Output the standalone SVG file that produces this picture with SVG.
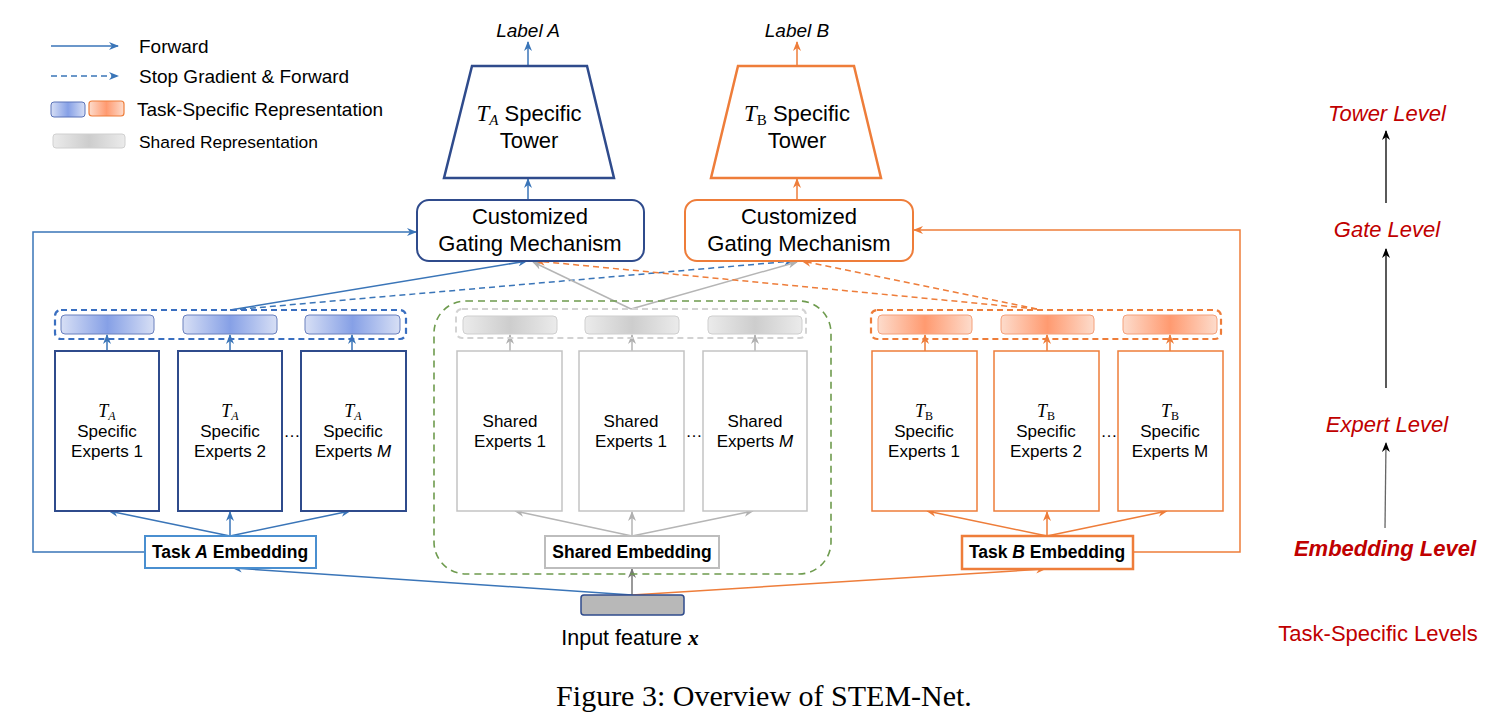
<svg xmlns="http://www.w3.org/2000/svg" width="1496" height="728" viewBox="0 0 1496 728">
<defs>
<style>
.sans{font-family:"Liberation Sans",Arial,sans-serif;fill:#000}
.serif{font-family:"Liberation Serif","Times New Roman",serif;fill:#000}
.math{font-family:"Liberation Serif","Times New Roman",serif;font-style:italic}
.lvl{font-family:"Liberation Sans",Arial,sans-serif;fill:#c00000;font-size:22px;text-anchor:middle}
.c{text-anchor:middle}
.blueL{stroke:#3a75b8;stroke-width:1.5;fill:none}
.orangeL{stroke:#ee7d3a;stroke-width:1.5;fill:none}
.grayL{stroke:#b5b5b5;stroke-width:1.5;fill:none}
.dash{stroke-dasharray:6,4}
.expA{fill:#fff;stroke:#2f4b8c;stroke-width:2}
.expS{fill:#fff;stroke:#c3c3c3;stroke-width:1.5}
.expB{fill:#fff;stroke:#ee7d3a;stroke-width:1.5}
.et{font-family:"Liberation Sans",Arial,sans-serif;font-size:17px;text-anchor:middle;fill:#000}
.emb{font-family:"Liberation Sans",Arial,sans-serif;font-size:17.5px;font-weight:bold;text-anchor:middle;fill:#000}
</style>
<linearGradient id="gBlue" x1="0" y1="0" x2="1" y2="0">
<stop offset="0" stop-color="#d7dff5"/><stop offset="0.5" stop-color="#86a0e6"/><stop offset="1" stop-color="#d7dff5"/>
</linearGradient>
<linearGradient id="gOrange" x1="0" y1="0" x2="1" y2="0">
<stop offset="0" stop-color="#fddccc"/><stop offset="0.5" stop-color="#ff9a70"/><stop offset="1" stop-color="#fddccc"/>
</linearGradient>
<linearGradient id="gGray" x1="0" y1="0" x2="1" y2="0">
<stop offset="0" stop-color="#ebebeb"/><stop offset="0.5" stop-color="#cdcdcd"/><stop offset="1" stop-color="#ebebeb"/>
</linearGradient>
<marker id="mBlue" markerUnits="userSpaceOnUse" markerWidth="10" markerHeight="8" refX="9" refY="4" orient="auto"><path d="M0,0 L10,4 L0,8 L3,4 z" fill="#3a75b8"/></marker>
<marker id="mOrange" markerUnits="userSpaceOnUse" markerWidth="10" markerHeight="8" refX="9" refY="4" orient="auto"><path d="M0,0 L10,4 L0,8 L3,4 z" fill="#ee7d3a"/></marker>
<marker id="mGray" markerUnits="userSpaceOnUse" markerWidth="10" markerHeight="8" refX="9" refY="4" orient="auto"><path d="M0,0 L10,4 L0,8 L3,4 z" fill="#b0b0b0"/></marker>
<marker id="mDark" markerUnits="userSpaceOnUse" markerWidth="10" markerHeight="8" refX="9" refY="4" orient="auto"><path d="M0,0 L10,4 L0,8 L3,4 z" fill="#777"/></marker>
<marker id="mBlack" markerUnits="userSpaceOnUse" markerWidth="10" markerHeight="8" refX="9" refY="4" orient="auto"><path d="M0,0 L10,4 L0,8 L3,4 z" fill="#000"/></marker>
</defs>
<rect width="1496" height="728" fill="#fff"/>

<g id="legend">
<line x1="51" y1="46" x2="118" y2="46" class="blueL" marker-end="url(#mBlue)"/>
<text x="139" y="53" class="sans" font-size="19">Forward</text>
<line x1="51" y1="76" x2="118" y2="76" class="blueL dash" stroke-dasharray="5,4" marker-end="url(#mBlue)"/>
<text x="139" y="83" class="sans" font-size="19">Stop Gradient &amp; Forward</text>
<rect x="51" y="102" width="34" height="15" rx="3" fill="url(#gBlue)" stroke="#5a72b8" stroke-width="1"/>
<rect x="89" y="101" width="35" height="15" rx="3" fill="url(#gOrange)" stroke="#ee7d3a" stroke-width="1.2"/>
<text x="137" y="116" class="sans" font-size="19">Task-Specific Representation</text>
<rect x="53" y="134" width="72" height="14" rx="3" fill="url(#gGray)" stroke="#d0d0d0" stroke-width="1"/>
<text x="139" y="148" class="sans" font-size="17.4">Shared Representation</text>
</g>

<g id="connectors">
<line x1="528" y1="66" x2="528" y2="42" class="blueL" marker-end="url(#mBlue)"/>
<line x1="528" y1="200" x2="528" y2="179" class="blueL" marker-end="url(#mBlue)"/>
<line x1="797" y1="66" x2="797" y2="42" class="orangeL" marker-end="url(#mOrange)"/>
<line x1="797" y1="200" x2="797" y2="179" class="orangeL" marker-end="url(#mOrange)"/>
<polyline points="145,552 33,552 33,232 416,232" class="blueL" marker-end="url(#mBlue)"/>
<polyline points="1133,552 1240,552 1240,230 914,230" class="orangeL" marker-end="url(#mOrange)"/>
<line x1="230" y1="310" x2="527" y2="261" class="blueL" marker-end="url(#mBlue)"/>
<line x1="230" y1="310" x2="793" y2="261" class="blueL dash" marker-end="url(#mBlue)"/>
<line x1="631" y1="309" x2="533" y2="262" class="grayL" marker-end="url(#mGray)"/>
<line x1="631" y1="309" x2="797" y2="262" class="grayL" marker-end="url(#mGray)"/>
<line x1="1037" y1="309" x2="802" y2="261" class="orangeL dash" marker-end="url(#mOrange)"/>
<line x1="1037" y1="309" x2="536" y2="261" class="orangeL dash" marker-end="url(#mOrange)"/>
<line x1="107" y1="351" x2="107" y2="335" class="blueL" marker-end="url(#mBlue)"/>
<line x1="230" y1="351" x2="230" y2="335" class="blueL" marker-end="url(#mBlue)"/>
<line x1="352" y1="351" x2="352" y2="335" class="blueL" marker-end="url(#mBlue)"/>
<line x1="510" y1="351" x2="510" y2="335" class="grayL" marker-end="url(#mGray)"/>
<line x1="632" y1="351" x2="632" y2="335" class="grayL" marker-end="url(#mGray)"/>
<line x1="755" y1="351" x2="755" y2="335" class="grayL" marker-end="url(#mGray)"/>
<line x1="925" y1="351" x2="925" y2="335" class="orangeL" marker-end="url(#mOrange)"/>
<line x1="1047" y1="351" x2="1047" y2="335" class="orangeL" marker-end="url(#mOrange)"/>
<line x1="1170" y1="351" x2="1170" y2="335" class="orangeL" marker-end="url(#mOrange)"/>
<line x1="230" y1="536" x2="109" y2="511" class="blueL" marker-end="url(#mBlue)"/>
<line x1="230" y1="536" x2="230" y2="512" class="blueL" marker-end="url(#mBlue)"/>
<line x1="230" y1="536" x2="350" y2="511" class="blueL" marker-end="url(#mBlue)"/>
<line x1="632" y1="536" x2="515" y2="511" class="grayL" marker-end="url(#mGray)"/>
<line x1="632" y1="536" x2="632" y2="512" class="grayL" marker-end="url(#mGray)"/>
<line x1="632" y1="536" x2="753" y2="511" class="grayL" marker-end="url(#mGray)"/>
<line x1="1047" y1="536" x2="927" y2="511" class="orangeL" marker-end="url(#mOrange)"/>
<line x1="1047" y1="536" x2="1047" y2="512" class="orangeL" marker-end="url(#mOrange)"/>
<line x1="1047" y1="536" x2="1167" y2="511" class="orangeL" marker-end="url(#mOrange)"/>
<line x1="632" y1="595" x2="233" y2="568" class="blueL" marker-end="url(#mBlue)"/>
<line x1="632" y1="595" x2="1045" y2="569" class="orangeL" stroke-width="1.2" marker-end="url(#mOrange)"/>
<line x1="632" y1="595" x2="632" y2="569" stroke="#777" stroke-width="1.5" marker-end="url(#mDark)"/>
<line x1="1386" y1="203" x2="1386" y2="131" stroke="#000" stroke-width="1.3" marker-end="url(#mBlack)"/>
<line x1="1386" y1="388" x2="1386" y2="249" stroke="#000" stroke-width="1.3" marker-end="url(#mBlack)"/>
<line x1="1385" y1="528" x2="1386" y2="443" stroke="#666" stroke-width="1.3" marker-end="url(#mBlack)"/>
</g>

<g id="towerA">
<text x="528" y="37" class="sans c" font-size="19" font-style="italic">Label A</text>
<polygon points="472,66 587,66 614,178 444,178" fill="#fff" stroke="#2f4b8c" stroke-width="2.5"/>
<text x="529" y="121" class="sans c" font-size="22"><tspan class="math" font-size="23">T</tspan><tspan class="math" font-size="15" dy="4">A</tspan><tspan dy="-4"> Specific</tspan></text>
<text x="529" y="148" class="sans c" font-size="22">Tower</text>
</g>

<g id="towerB">
<text x="797" y="37" class="sans c" font-size="19" font-style="italic">Label B</text>
<polygon points="738,66 854,66 881,178 711,178" fill="#fff" stroke="#ee7d3a" stroke-width="2.5"/>
<text x="797" y="121" class="sans c" font-size="22"><tspan class="math" font-size="23">T</tspan><tspan font-family="Liberation Serif,serif" font-size="15" dy="4">B</tspan><tspan dy="-4"> Specific</tspan></text>
<text x="797" y="148" class="sans c" font-size="22">Tower</text>
</g>

<g id="gateA">
<rect x="417" y="200" width="227" height="61" rx="12" fill="#fff" stroke="#2f4b8c" stroke-width="2"/>
<text x="530" y="224" class="sans c" font-size="22">Customized</text>
<text x="530" y="251" class="sans c" font-size="22">Gating Mechanism</text>
</g>
<g id="gateB">
<rect x="685" y="200" width="228" height="61" rx="12" fill="#fff" stroke="#ee7d3a" stroke-width="2"/>
<text x="799" y="224" class="sans c" font-size="22">Customized</text>
<text x="799" y="251" class="sans c" font-size="22">Gating Mechanism</text>
</g>

<g id="repA">
<rect x="55" y="310" width="351" height="29" rx="6" fill="none" stroke="#3a6fc0" stroke-width="2.2" stroke-dasharray="6,4"/>
<rect x="61" y="315" width="93" height="19" rx="4" fill="url(#gBlue)" stroke="#6a80bd" stroke-width="1"/>
<rect x="183" y="315" width="94" height="19" rx="4" fill="url(#gBlue)" stroke="#6a80bd" stroke-width="1"/>
<rect x="305" y="315" width="95" height="19" rx="4" fill="url(#gBlue)" stroke="#6a80bd" stroke-width="1"/>
</g>
<g id="expertsA">
<rect x="55" y="351" width="104" height="160" class="expA"/>
<text x="107" y="417" class="c"><tspan class="math" font-size="18">T</tspan><tspan class="math" font-size="12" dy="3">A</tspan></text>
<text x="107" y="437" class="et">Specific</text>
<text x="107" y="457" class="et">Experts 1</text>
<rect x="178" y="351" width="104" height="160" class="expA"/>
<text x="230" y="417" class="c"><tspan class="math" font-size="18">T</tspan><tspan class="math" font-size="12" dy="3">A</tspan></text>
<text x="230" y="437" class="et">Specific</text>
<text x="230" y="457" class="et">Experts 2</text>
<text x="292" y="437" class="et">…</text>
<rect x="301" y="351" width="105" height="160" class="expA"/>
<text x="353" y="417" class="c"><tspan class="math" font-size="18">T</tspan><tspan class="math" font-size="12" dy="3">A</tspan></text>
<text x="353" y="437" class="et">Specific</text>
<text x="353" y="457" class="et">Experts <tspan font-style="italic">M</tspan></text>
</g>
<g id="embA">
<rect x="145" y="536" width="171" height="32" fill="#fff" stroke="#4a8fd0" stroke-width="2"/>
<text x="230" y="558" class="emb">Task <tspan font-style="italic">A</tspan> Embedding</text>
</g>

<g id="sharedGroup">
<rect x="434" y="301" width="397" height="273" rx="32" fill="none" stroke="#6e9b4e" stroke-width="1.6" stroke-dasharray="7,5"/>
</g>
<g id="repS">
<rect x="456" y="309" width="350" height="29" rx="6" fill="none" stroke="#d3d3d3" stroke-width="2" stroke-dasharray="6,4"/>
<rect x="463" y="316" width="94" height="18" rx="4" fill="url(#gGray)" stroke="#cfcfcf" stroke-width="1"/>
<rect x="585" y="316" width="94" height="18" rx="4" fill="url(#gGray)" stroke="#cfcfcf" stroke-width="1"/>
<rect x="708" y="316" width="94" height="18" rx="4" fill="url(#gGray)" stroke="#cfcfcf" stroke-width="1"/>
</g>
<g id="expertsS">
<rect x="457" y="351" width="105" height="160" class="expS"/>
<text x="510" y="427" class="et">Shared</text>
<text x="510" y="447" class="et">Experts 1</text>
<rect x="579" y="351" width="105" height="160" class="expS"/>
<text x="631" y="427" class="et">Shared</text>
<text x="631" y="447" class="et">Experts 1</text>
<text x="694" y="437" class="et">…</text>
<rect x="703" y="351" width="104" height="160" class="expS"/>
<text x="755" y="427" class="et">Shared</text>
<text x="755" y="447" class="et">Experts <tspan font-style="italic">M</tspan></text>
</g>
<g id="embS">
<rect x="545" y="536" width="174" height="32" fill="#fff" stroke="#bdbdbd" stroke-width="2"/>
<text x="632" y="558" class="emb">Shared Embedding</text>
</g>

<g id="repB">
<rect x="871" y="310" width="350" height="29" rx="6" fill="none" stroke="#ee7d3a" stroke-width="2.2" stroke-dasharray="6,4"/>
<rect x="878" y="315" width="94" height="19" rx="4" fill="url(#gOrange)" stroke="#f4a07a" stroke-width="1"/>
<rect x="1001" y="315" width="93" height="19" rx="4" fill="url(#gOrange)" stroke="#f4a07a" stroke-width="1"/>
<rect x="1123" y="315" width="94" height="19" rx="4" fill="url(#gOrange)" stroke="#f4a07a" stroke-width="1"/>
</g>
<g id="expertsB">
<rect x="872" y="351" width="105" height="160" class="expB"/>
<text x="924" y="417" class="c"><tspan class="math" font-size="18">T</tspan><tspan font-family="Liberation Serif,serif" font-size="12" dy="3">B</tspan></text>
<text x="924" y="437" class="et">Specific</text>
<text x="924" y="457" class="et">Experts 1</text>
<rect x="994" y="351" width="105" height="160" class="expB"/>
<text x="1046" y="417" class="c"><tspan class="math" font-size="18">T</tspan><tspan font-family="Liberation Serif,serif" font-size="12" dy="3">B</tspan></text>
<text x="1046" y="437" class="et">Specific</text>
<text x="1046" y="457" class="et">Experts 2</text>
<text x="1109" y="437" class="et">…</text>
<rect x="1118" y="351" width="105" height="160" class="expB"/>
<text x="1170" y="417" class="c"><tspan class="math" font-size="18">T</tspan><tspan font-family="Liberation Serif,serif" font-size="12" dy="3">B</tspan></text>
<text x="1170" y="437" class="et">Specific</text>
<text x="1170" y="457" class="et">Experts M</text>
</g>
<g id="embB">
<rect x="962" y="536" width="171" height="33" fill="#fff" stroke="#ee7d3a" stroke-width="2.5"/>
<text x="1047" y="558" class="emb">Task <tspan font-style="italic">B</tspan> Embedding</text>
</g>

<g id="input">
<rect x="581" y="595" width="103" height="20" rx="3" fill="#b8b8b8" stroke="#2f4b8c" stroke-width="1.5"/>
<text x="630" y="645" class="sans c" font-size="21.5">Input feature <tspan font-family="Liberation Serif,serif" font-style="italic" font-weight="bold">x</tspan></text>
</g>

<g id="levels">
<text x="1387" y="121" class="lvl" font-style="italic">Tower Level</text>
<text x="1387" y="237" class="lvl" font-style="italic">Gate Level</text>
<text x="1387" y="432" class="lvl" font-style="italic">Expert Level</text>
<text x="1385" y="556" class="lvl" font-style="italic" font-weight="bold">Embedding Level</text>
<text x="1378" y="641" class="lvl">Task-Specific Levels</text>
</g>

<text x="764" y="706" class="serif c" font-size="30">Figure 3: Overview of STEM-Net.</text>
</svg>
